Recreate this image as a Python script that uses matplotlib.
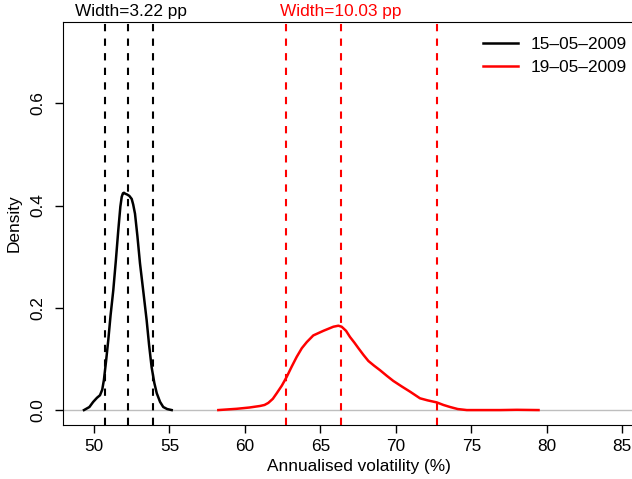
import matplotlib
matplotlib.use("Agg")
import matplotlib.pyplot as plt
import matplotlib.transforms as mtransforms

plt.rcParams['font.family'] = ['Liberation Sans', 'DejaVu Sans']

# density curve for 15-05-2009
x_a = [49.34, 49.70, 49.95, 50.20, 50.40, 50.55, 50.66, 50.80, 50.95, 51.10,
       51.28, 51.45, 51.61, 51.75, 51.84, 51.92, 51.99, 52.08, 52.17, 52.34,
       52.50, 52.60, 52.72, 52.88, 53.05, 53.27, 53.49, 53.65, 53.82, 54.00,
       54.16, 54.38, 54.59, 54.85, 55.15]
d_a = [0.0, 0.006, 0.016, 0.024, 0.029, 0.040, 0.059, 0.095, 0.137, 0.185,
       0.234, 0.292, 0.351, 0.398, 0.417, 0.424, 0.425, 0.423, 0.422, 0.419,
       0.413, 0.402, 0.384, 0.340, 0.287, 0.232, 0.176, 0.128, 0.084, 0.053,
       0.033, 0.016, 0.006, 0.002, 0.0]

# density curve for 19-05-2009
x_b = [58.24, 59.46, 60.30, 61.00, 61.30, 61.55, 61.85, 62.11, 62.45, 62.77,
       63.10, 63.43, 63.77, 64.10, 64.53, 65.20, 65.86, 66.19, 66.41, 66.70,
       66.96, 67.25, 67.52, 67.85, 68.18, 68.55, 68.95, 69.40, 69.83, 70.40,
       70.94, 71.60, 72.10, 72.71, 73.15, 73.59, 74.10, 74.70, 75.80, 76.91,
       78.01, 79.45]
d_b = [0.0, 0.0025, 0.005, 0.008, 0.010, 0.014, 0.022, 0.033, 0.048, 0.065,
       0.085, 0.104, 0.121, 0.133, 0.146, 0.155, 0.163, 0.165, 0.163, 0.155,
       0.143, 0.132, 0.121, 0.108, 0.096, 0.087, 0.078, 0.067, 0.057, 0.046,
       0.036, 0.023, 0.019, 0.015, 0.010, 0.006, 0.002, 0.0, 0.0, 0.0,
       0.0005, 0.0]

# quantile lines (lower, median, upper)
q_a = [50.71, 52.25, 53.93]
q_b = [62.72, 66.35, 72.75]

labels = ["15\u201305\u20132009", "19\u201305\u20132009"]
width_a = "Width=3.22 pp"
width_b = "Width=10.03 pp"

fs = 12.4

fig = plt.figure(figsize=(6.32, 4.79), dpi=100)
ax = fig.add_axes([63/632, 54/479, 591/632, 403/479])

ax.axhline(0, color="#BEBEBE", lw=1, zorder=1)
ax.plot(x_a, d_a, color="black", lw=1.8, label=labels[0])
ax.plot(x_b, d_b, color="red", lw=1.8, label=labels[1])

for q in q_a:
    ax.axvline(q, color="black", lw=1.5, dashes=(3.5, 3.5))
for q in q_b:
    ax.axvline(q, color="red", lw=1.5, dashes=(3.5, 3.5))

ax.set_xlim(47.95, 87.1)
ax.set_ylim(-0.0292, 0.759)
ax.set_xticks([50, 55, 60, 65, 70, 75, 80, 85])
ax.set_yticks([0.0, 0.2, 0.4, 0.6])
ax.set_yticklabels(["0.0", "0.2", "0.4", "0.6"], rotation=90, va="center")
ax.tick_params(labelsize=fs, length=6, width=1)
ax.tick_params(axis="x", pad=4)
ax.tick_params(axis="y", pad=7)
ax.spines["right"].set_visible(False)

ax.set_xlabel("Annualised volatility (%)", fontsize=fs, labelpad=4)
ax.set_ylabel("Density", fontsize=fs, labelpad=6)

trans = mtransforms.blended_transform_factory(ax.transData, ax.transAxes)
ax.text(q_a[1] + 0.2, 1.008, width_a, transform=trans, ha="center",
        va="bottom", fontsize=fs, color="black")
ax.text(q_b[1], 1.008, width_b, transform=trans, ha="center", va="bottom",
        fontsize=fs, color="red")

ax.legend(loc="upper left", bbox_to_anchor=(478/632, 447/479),
          bbox_transform=fig.transFigure, frameon=False, fontsize=fs,
          handlelength=2.0, handletextpad=0.75, labelspacing=0.45,
          borderaxespad=0.0, borderpad=0.3)

fig.savefig("out.png", dpi=100)
